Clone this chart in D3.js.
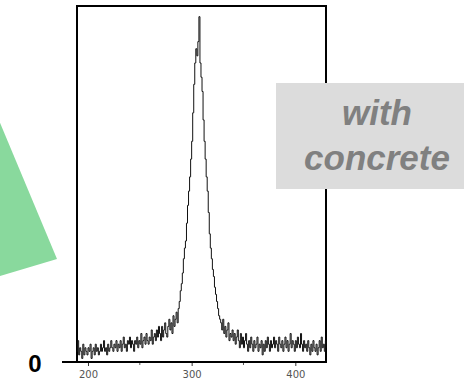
<!DOCTYPE html>
<html><head><meta charset="utf-8">
<script src="https://cdn.jsdelivr.net/npm/d3@7"></script>
<style>html,body{margin:0;padding:0;background:#fff;}svg{display:block;}</style>
</head><body>
<svg id="chart" width="468" height="387"></svg>
<script>
// Data: counts per 1-unit bin, starting at binStart
const binStart = 189;
const counts = [
3,6,2,4,3,1,5,2,4,3,
2,4,3,5,1,3,4,2,5,3,
4,2,3,5,3,4,6,3,4,2,
5,3,4,6,4,3,5,4,6,3,
5,4,6,3,5,7,4,5,3,6,
5,7,4,6,5,3,6,5,7,4,
6,5,8,4,6,7,5,8,6,5,
7,6,9,5,7,8,6,9,7,10,
8,6,10,7,9,11,8,7,10,12,
9,11,8,13,10,12,14,11,15,17,
20,22,25,29,32,34,39,44,48,52,
57,62,70,78,84,88,86,90,97,84,
80,76,68,62,57,52,48,42,36,32,
29,26,24,21,19,17,15,13,12,11,
9,12,8,10,7,9,11,6,8,7,
9,6,8,5,7,9,6,4,8,5,
7,4,6,8,5,3,6,4,7,5,
3,6,4,5,7,3,5,4,6,2,
5,3,6,4,7,5,3,6,4,5,
7,4,6,5,3,7,5,4,6,3,
5,7,4,6,3,5,8,4,6,5,
3,6,4,7,5,4,8,5,3,6,
4,5,3,6,4,2,5,3,6,4,
3,5,2,4,6,3,7,4,5,3,
6,4
];
const majorTicks = [200, 300, 400];
const minorTicks = [250, 350];
const xDomain = [189.4, 429.6];
const yDomain = [0, 100];
const zeroLabel = "0";
const noteLines = ["with", "concrete"];

(function () {
const svg = d3.select("#chart");
const pl = 77, pr = 326, pt = 6, pb = 362;
const x = d3.scaleLinear().domain(xDomain).range([pl, pr]);
const y = d3.scaleLinear().domain(yDomain).range([pb, pt]);

// green triangle decoration
svg.append("polygon")
  .attr("points", "-20,75 57,259 -20,282")
  .attr("fill", "#89d99d");

// plot frame
svg.append("rect").attr("x", pl).attr("y", pt)
  .attr("width", pr - pl).attr("height", pb - pt)
  .attr("fill", "none").attr("stroke", "#000").attr("stroke-width", 2);

const pts = counts.map((c, i) => [binStart + i, c]);
pts.push([binStart + counts.length, counts[counts.length - 1]]);
const line = d3.line().x(d => x(Math.min(d[0], xDomain[1]))).y(d => y(d[1])).curve(d3.curveStepAfter);
svg.append("path").datum(pts).attr("d", line)
  .attr("fill", "none").attr("stroke", "#111").attr("stroke-width", 1);

// bottom axis
const axisG = svg.append("g").attr("transform", `translate(0,${pb})`);
axisG.call(d3.axisBottom(x).tickValues(majorTicks).tickSize(4).tickPadding(5));
axisG.select(".domain").remove();
axisG.selectAll(".tick line").attr("stroke", "#333");
axisG.selectAll(".tick text").attr("font-family", "DejaVu Sans").attr("font-size", 10).attr("fill", "#555");
axisG.selectAll(".minor").data(minorTicks).enter().append("line")
  .attr("x1", d => x(d)).attr("x2", d => x(d)).attr("y1", 0).attr("y2", 3)
  .attr("stroke", "#555");
svg.append("line").attr("x1", 62).attr("x2", pr).attr("y1", pb).attr("y2", pb)
  .attr("stroke", "#000").attr("stroke-width", 2);

svg.append("text").attr("x", 35).attr("y", 372).attr("text-anchor", "middle")
  .attr("font-family", "Liberation Sans, Arial, sans-serif").attr("font-weight", "bold")
  .attr("font-size", 24).attr("fill", "#000").text(zeroLabel);

// note box
svg.append("rect").attr("x", 276).attr("y", 83).attr("width", 188).attr("height", 106)
  .attr("fill", "#dcdcdc");
svg.selectAll(".note").data(noteLines).enter().append("text")
  .attr("x", 377).attr("y", (d, i) => 125 + i * 45).attr("text-anchor", "middle")
  .attr("font-family", "Liberation Sans, Arial, sans-serif").attr("font-weight", "bold")
  .attr("font-style", "italic").attr("font-size", 35).attr("fill", "#808080").text(d => d);
})();
</script>
</body></html>
